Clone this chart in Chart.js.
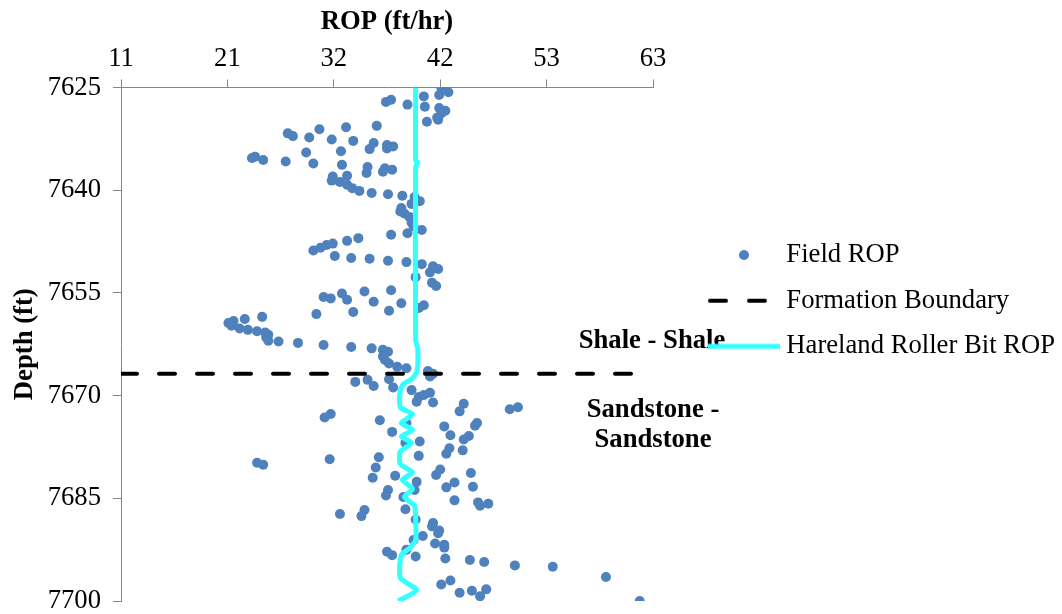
<!DOCTYPE html>
<html>
<head>
<meta charset="utf-8">
<script src="https://cdn.jsdelivr.net/npm/chart.js@4.4.0/dist/chart.umd.min.js"></script>
<style>
	body { margin: 0; background: #fff; }
	#wrap { width: 1062px; height: 614px; }
</style>
</head>
<body>
<div id="wrap"><canvas id="ropChart" width="1062" height="614"></canvas></div>
<script>
// x axis (ROP) range and the rounded labels Excel printed
const xMin = 11;
const xMax = 63;
const xTickLabels = [11, 21, 32, 42, 53, 63];
const depthMin = 7625;
const depthMax = 7700;
const depthStep = 15;

// Field ROP scatter (ft/hr vs depth ft)
const fieldRop = [
	42.3, 42.7, 43.0, 42.1, 40.6, 36.9, 37.4, 39.0, 40.7, 42.1, 42.7, 42.3, 41.9, 42.0, 40.9,
	27.3, 27.8, 30.4, 33.0, 36.0, 29.4, 31.6, 33.7, 35.7, 35.3, 37.0, 37.6, 37.0, 29.1, 32.5,
	23.8, 24.1, 24.9, 27.1, 29.8, 32.6, 35.1, 35.0, 36.8, 37.5, 36.6, 31.7, 31.6, 33.1, 32.4,
	33.1, 33.6, 34.3, 35.5, 37.1, 38.5, 39.7, 40.2, 39.4, 38.4, 38.3, 38.7, 39.2, 39.4, 39.6,
	40.4, 39.0, 37.4, 34.2, 33.1, 31.7, 31.1, 30.5, 29.8, 31.9, 33.5, 35.3, 37.1, 38.9, 40.4,
	41.5, 42.0, 41.2, 39.8, 41.4, 41.8, 37.4, 34.8, 32.6, 33.1, 30.8, 31.5, 35.7, 38.4, 40.6,
	40.1, 37.2, 33.7, 30.1, 24.8, 23.1, 22.0, 21.5, 21.8, 22.6, 23.4, 24.3, 25.1, 25.4, 25.2,
	25.4, 26.4, 28.3, 30.8, 33.5, 35.5, 36.6, 37.1, 36.6, 36.8, 37.2, 38.0, 38.9, 41.0, 41.5,
	41.2, 37.2, 33.9, 35.1, 35.7, 37.6, 39.4, 40.1, 39.9, 40.6, 41.2, 41.5, 44.5, 44.1, 49.0,
	49.8, 30.9, 31.5, 36.3, 37.5, 42.6, 43.2, 45.8, 45.6, 45.0, 44.5, 40.2, 38.8, 43.1, 42.8,
	44.4, 40.1, 36.2, 31.4, 24.3, 24.9, 35.9, 35.6, 37.8, 42.2, 41.8, 45.2, 39.9, 39.7, 37.1,
	36.9, 38.6, 42.8, 43.6, 45.4, 43.6, 45.9, 46.1, 46.9, 32.4, 34.8, 34.5, 38.8, 39.8, 41.5,
	41.4, 42.1, 42.0, 40.5, 39.6, 41.7, 42.6, 42.6, 38.9, 37.0, 37.5, 39.8, 42.7, 45.1, 46.5,
	49.5, 53.2, 58.4, 61.7, 42.3, 43.2, 44.1, 45.3, 46.1, 46.7, 38.9
];
const fieldDepth = [
	7625.0, 7625.3, 7625.7, 7626.1, 7626.3, 7627.1, 7626.8, 7627.5, 7627.8, 7628.0, 7628.4, 7628.8, 7629.4, 7629.7, 7630.0,
	7631.7, 7632.1, 7631.1, 7630.8, 7630.6, 7632.3, 7632.6, 7632.8, 7633.1, 7634.0, 7633.4, 7633.6, 7633.9, 7634.5, 7634.3,
	7635.3, 7635.1, 7635.6, 7635.8, 7636.1, 7636.3, 7636.6, 7637.5, 7636.8, 7637.0, 7637.3, 7638.0, 7638.6, 7637.9, 7638.8,
	7639.2, 7639.7, 7640.1, 7640.4, 7640.6, 7640.8, 7641.0, 7641.6, 7642.0, 7642.6, 7643.1, 7643.4, 7643.9, 7644.7, 7645.3,
	7645.8, 7646.3, 7646.5, 7647.0, 7647.4, 7647.8, 7648.0, 7648.4, 7648.8, 7649.6, 7649.9, 7650.0, 7650.3, 7650.5, 7650.8,
	7651.1, 7651.5, 7652.0, 7652.7, 7653.5, 7654.0, 7654.6, 7654.8, 7655.1, 7656.0, 7655.6, 7655.8, 7656.3, 7656.5, 7656.8,
	7657.2, 7657.6, 7657.8, 7658.1, 7658.5, 7658.8, 7659.1, 7659.4, 7659.8, 7660.2, 7660.4, 7660.6, 7660.8, 7661.1, 7661.5,
	7662.0, 7662.1, 7662.3, 7662.6, 7662.9, 7663.1, 7663.3, 7663.6, 7664.3, 7664.8, 7665.3, 7665.8, 7666.0, 7666.4, 7666.8,
	7667.2, 7667.6, 7668.0, 7667.7, 7668.6, 7668.8, 7669.2, 7670.2, 7670.9, 7669.9, 7669.6, 7671.0, 7671.2, 7672.3, 7672.0,
	7671.7, 7673.2, 7672.7, 7673.6, 7675.3, 7674.5, 7675.8, 7674.0, 7674.4, 7675.9, 7676.4, 7676.7, 7676.9, 7677.7, 7678.5,
	7678.0, 7678.8, 7679.0, 7679.3, 7679.8, 7680.1, 7680.5, 7682.0, 7681.7, 7680.8, 7681.6, 7681.3, 7682.6, 7683.8, 7683.8,
	7684.6, 7684.8, 7683.4, 7682.7, 7683.3, 7685.3, 7685.6, 7686.1, 7685.8, 7687.3, 7686.7, 7687.6, 7686.6, 7688.1, 7688.6,
	7689.1, 7689.7, 7690.1, 7690.5, 7691.1, 7691.6, 7691.8, 7692.2, 7692.5, 7692.8, 7693.3, 7693.5, 7693.8, 7694.0, 7694.3,
	7694.8, 7695.0, 7696.5, 7700.0, 7697.6, 7697.0, 7698.8, 7698.5, 7699.3, 7698.3, 7674.0
];

// Hareland roller bit model
const harelandRop = [
	39.8, 39.8, 40.0, 39.8, 39.8, 40.0, 40.0, 39.9, 39.4, 38.6, 38.3, 38.3, 39.5, 38.4, 39.5, 38.4,
	39.4, 38.3, 38.3, 39.5, 38.5, 39.5, 38.7, 39.7, 39.8, 39.8, 39.2, 38.4, 38.3, 39.9, 38.1
];
const harelandDepth = [
	7625.0, 7635.6, 7636.0, 7636.6, 7661.9, 7663.1, 7665.7, 7666.6, 7667.6, 7668.3, 7669.2, 7671.7, 7672.7, 7674.0, 7675.0, 7676.0,
	7676.9, 7678.2, 7680.0, 7681.2, 7682.3, 7683.6, 7684.8, 7686.1, 7688.2, 7691.1, 7692.3, 7693.3, 7696.6, 7698.4, 7700.0
];

// formation boundary
const boundaryDepth = 7666.8;
const boundaryRop = [11, 63];

// zone labels, anchored in data units
const zoneText = ['Shale - Shale', 'Sandstone -', 'Sandstone'];
const zoneRop = [62.9, 63.0, 63.0];
const zoneDepth = [7662.1, 7672.1, 7676.5];

const legendNames = ['Field ROP', 'Formation Boundary', 'Hareland Roller Bit ROP'];

const FONT = "'Liberation Serif', 'Times New Roman', serif";
const FS = 26.67; // 20pt
const AXIS_GREY = '#868686';
const DOT_BLUE = '#4F81BD';
const CYAN = '#33FFFF';

Chart.defaults.font.family = FONT;
Chart.defaults.font.size = FS;
Chart.defaults.color = '#000';

// small canvases used as legend markers
function makeMarker(draw) {
	const c = document.createElement('canvas');
	c.width = 72;
	c.height = 12;
	draw(c.getContext('2d'));
	return c;
}
const dotMarker = makeMarker(g => {
	g.fillStyle = DOT_BLUE;
	g.beginPath();
	g.arc(36, 6, 5, 0, Math.PI * 2);
	g.fill();
});
const dashMarker = makeMarker(g => {
	g.strokeStyle = '#000';
	g.lineWidth = 4;
	g.lineCap = 'round';
	g.setLineDash([16, 23]);
	g.beginPath();
	g.moveTo(2, 6);
	g.lineTo(72, 6);
	g.stroke();
});
const cyanMarker = makeMarker(g => {
	g.strokeStyle = CYAN;
	g.lineWidth = 5;
	g.beginPath();
	g.moveTo(0, 6);
	g.lineTo(72, 6);
	g.stroke();
});
const markers = [dotMarker, dashMarker, cyanMarker];

const zoneLabelPlugin = {
	id: 'zoneLabels',
	beforeDraw(chart) {
		const { ctx, scales } = chart;
		ctx.save();
		ctx.font = 'bold ' + FS + 'px ' + FONT;
		ctx.fillStyle = '#000';
		ctx.textAlign = 'center';
		ctx.textBaseline = 'middle';
		zoneText.forEach((t, i) => {
			ctx.fillText(t, scales.x.getPixelForValue(zoneRop[i]), scales.y.getPixelForValue(zoneDepth[i]));
		});
		ctx.restore();
	}
};

const ctx = document.getElementById('ropChart').getContext('2d');
new Chart(ctx, {
	type: 'scatter',
	data: {
		datasets: [
			{
				label: legendNames[0],
				data: fieldRop.map((v, i) => ({ x: v, y: fieldDepth[i] })),
				backgroundColor: DOT_BLUE,
				borderWidth: 0,
				pointRadius: 5,
				order: 3
			},
			{
				label: legendNames[1],
				data: boundaryRop.map(v => ({ x: v, y: boundaryDepth })),
				showLine: true,
				borderColor: '#000',
				borderWidth: 4,
				borderDash: [16, 22],
				borderCapStyle: 'round',
				pointRadius: 0,
				order: 2
			},
			{
				label: legendNames[2],
				data: harelandRop.map((v, i) => ({ x: v, y: harelandDepth[i] })),
				showLine: true,
				borderColor: CYAN,
				borderWidth: 5,
				borderJoinStyle: 'round',
				tension: 0.2,
				pointRadius: 0,
				order: 1
			}
		]
	},
	options: {
		responsive: false,
		animation: false,
		layout: { padding: { left: 0, top: 0, right: 0, bottom: 0 } },
		plugins: {
			tooltip: { enabled: false },
			legend: {
				position: 'right',
				align: 'start',
				maxWidth: 366,
				title: { display: true, text: '', padding: { top: 208.3, bottom: 0 }, font: { size: 12 } },
				labels: {
					usePointStyle: true,
					pointStyleWidth: 58,
					padding: 19,
					color: '#000',
					font: { size: FS },
					generateLabels: () => legendNames.map((name, i) => ({
						text: name,
						pointStyle: markers[i],
						fillStyle: 'transparent',
						strokeStyle: 'transparent',
						lineWidth: 0,
						hidden: false,
						datasetIndex: i
					}))
				}
			}
		},
		scales: {
			x: {
				type: 'linear',
				position: 'top',
				min: xMin,
				max: xMax,
				afterBuildTicks: axis => {
					const step = (xMax - xMin) / (xTickLabels.length - 1);
					axis.ticks = xTickLabels.map((_, i) => ({ value: xMin + i * step }));
				},
				ticks: {
					callback: (v, i) => xTickLabels[i],
					padding: 5,
					maxRotation: 0,
					autoSkip: false,
					color: '#000'
				},
				grid: { drawOnChartArea: false, color: AXIS_GREY, tickLength: 8 },
				border: { color: AXIS_GREY },
				title: {
					display: true,
					text: 'ROP (ft/hr)',
					color: '#000',
					font: { size: FS, weight: 'bold' },
					padding: { top: 6, bottom: 0 }
				},
				afterFit: s => { s.height = 87.5; }
			},
			y: {
				type: 'linear',
				reverse: true,
				min: depthMin,
				max: depthMax,
				ticks: {
					stepSize: depthStep,
					padding: 12,
					color: '#000',
					callback: v => String(v)
				},
				grid: { drawOnChartArea: false, color: AXIS_GREY, tickLength: 8 },
				border: { color: AXIS_GREY },
				title: {
					display: true,
					text: 'Depth (ft)',
					color: '#000',
					font: { size: FS, weight: 'bold' },
					padding: { top: 9, bottom: 0 }
				},
				afterFit: s => {
					s.width = 121;
					// leave just enough room under the plot for the last label
					s.paddingTop = 13;
					s.paddingBottom = 13;
				}
			},
			// empty spacer between plot and legend
			gap: {
				type: 'linear',
				position: 'right',
				grid: { display: false },
				border: { display: false },
				ticks: { display: false },
				afterFit: s => { s.width = 43; }
			}
		}
	},
	plugins: [zoneLabelPlugin]
});
</script>
</body>
</html>
